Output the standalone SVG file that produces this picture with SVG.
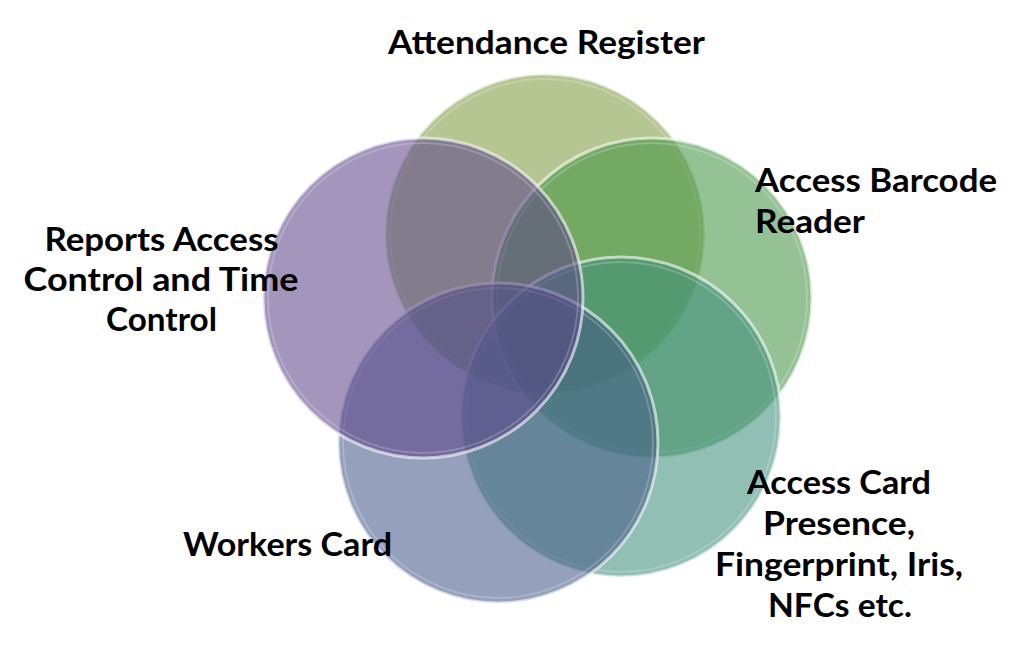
<svg xmlns="http://www.w3.org/2000/svg" width="1024" height="650" viewBox="0 0 1024 650">
  <style>
    .c { fill-opacity: 0.56; stroke: #ffffff; stroke-opacity: 0.6; stroke-width: 3; }
    .rim { fill: none; stroke: #ffffff; stroke-opacity: 0.2; stroke-width: 2; }
    .t { font-family: Lato, "Open Sans", "Liberation Sans", sans-serif; font-weight: bold; font-size: 33px; fill: #000000; }
    .m { text-anchor: middle; }
  </style>
  <rect width="1024" height="650" fill="#ffffff"/>
  <g id="node-attendance">
    <circle class="c" cx="545" cy="234" r="160" fill="rgb(124,153,60)"/>
    <circle class="rim" cx="545" cy="234" r="155"/>
    <text class="t m" x="546.5" y="54" textLength="317" lengthAdjust="spacingAndGlyphs">Attendance Register</text>
  </g>
  <g id="node-barcode">
    <circle class="c" cx="652" cy="298" r="160" fill="rgb(64,146,64)"/>
    <circle class="rim" cx="652" cy="298" r="155"/>
    <text class="t" x="755" y="192" textLength="242" lengthAdjust="spacingAndGlyphs">Access Barcode</text>
    <text class="t" x="755" y="233" textLength="110" lengthAdjust="spacingAndGlyphs">Reader</text>
  </g>
  <g id="node-accesscard">
    <circle class="c" cx="621" cy="417" r="160" fill="rgb(59,140,122)"/>
    <circle class="rim" cx="621" cy="417" r="155"/>
    <text class="t m" x="839" y="494" textLength="184" lengthAdjust="spacingAndGlyphs">Access Card</text>
    <text class="t m" x="839" y="535" textLength="152" lengthAdjust="spacingAndGlyphs">Presence,</text>
    <text class="t m" x="839" y="576" textLength="248" lengthAdjust="spacingAndGlyphs">Fingerprint, Iris,</text>
    <text class="t m" x="840" y="617" textLength="144" lengthAdjust="spacingAndGlyphs">NFCs etc.</text>
  </g>
  <g id="node-workers">
    <circle class="c" cx="498" cy="443" r="160" fill="rgb(66,88,135)"/>
    <circle class="rim" cx="498" cy="443" r="155"/>
    <text class="t m" x="287.5" y="556" textLength="209" lengthAdjust="spacingAndGlyphs">Workers Card</text>
  </g>
  <g id="node-reports">
    <circle class="c" cx="423" cy="298" r="160" fill="rgb(91,66,135)"/>
    <circle class="rim" cx="423" cy="298" r="155"/>
    <text class="t m" x="161.5" y="251" textLength="234" lengthAdjust="spacingAndGlyphs">Reports Access</text>
    <text class="t m" x="161" y="291" textLength="275" lengthAdjust="spacingAndGlyphs">Control and Time</text>
    <text class="t m" x="161.5" y="331" textLength="111" lengthAdjust="spacingAndGlyphs">Control</text>
  </g>
  <g id="connectors"></g>
</svg>
